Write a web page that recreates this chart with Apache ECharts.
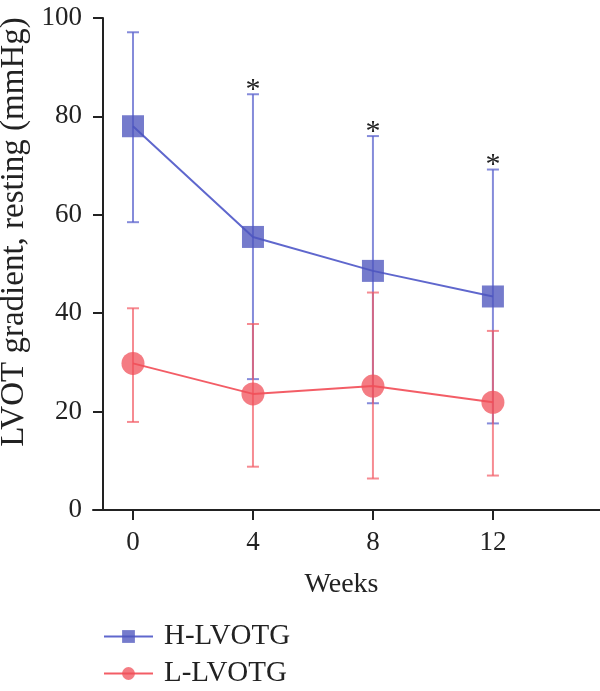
<!DOCTYPE html>
<html>
<head>
<meta charset="utf-8">
<script src="https://cdn.jsdelivr.net/npm/echarts@6/dist/echarts.min.js"></script>
<style>
    html, body { margin: 0; padding: 0; background: #fff; }
    #main { width: 600px; height: 691px; }
</style>
</head>
<body>
<div id="main"></div>
<script>
// weeks on the x axis
var weeks = [0, 4, 8, 12];
// H-LVOTG: mean, upper and lower whisker
var hMean = [78.0, 55.5, 48.6, 43.4];
var hUpper = [97.1, 84.5, 76.0, 69.2];
var hLower = [58.5, 26.6, 21.7, 17.6];
var hStar = [0, 1, 1, 1];
// L-LVOTG
var lMean = [29.8, 23.6, 25.2, 21.9];
var lUpper = [41.0, 37.8, 44.2, 36.4];
var lLower = [17.9, 8.8, 6.4, 7.0];
var lStar = [0, 0, 0, 0];

var serif = '"Liberation Serif", "DejaVu Serif", serif';
var blue = 'rgba(78, 86, 190, 0.78)';
var blueBar = 'rgba(92, 100, 205, 0.75)';
var red = 'rgba(240, 80, 90, 0.75)';
var redBar = 'rgba(242, 90, 100, 0.7)';

function pairs(ys) {
    var out = [];
    for (var i = 0; i < weeks.length; i++) out.push([weeks[i], ys[i]]);
    return out;
}
function bars(lo, hi, star) {
    var out = [];
    for (var i = 0; i < weeks.length; i++) out.push([weeks[i], lo[i], hi[i], star[i]]);
    return out;
}

// 误差线 + 显著性星号
function errorBar(color) {
    return function (params, api) {
        var x = api.value(0);
        var lo = api.coord([x, api.value(1)]);
        var hi = api.coord([x, api.value(2)]);
        var w = 6;
        var style = { stroke: color, lineWidth: 2, fill: null };
        var kids = [
            { type: 'line', shape: { x1: hi[0], y1: hi[1], x2: lo[0], y2: lo[1] }, style: style },
            { type: 'line', shape: { x1: hi[0] - w, y1: hi[1], x2: hi[0] + w, y2: hi[1] }, style: style },
            { type: 'line', shape: { x1: lo[0] - w, y1: lo[1], x2: lo[0] + w, y2: lo[1] }, style: style }
        ];
        if (api.value(3)) {
            kids.push({
                type: 'text',
                style: {
                    text: '*', x: hi[0], y: hi[1] - 4,
                    align: 'center', verticalAlign: 'middle',
                    font: '30px ' + serif, fill: '#222'
                }
            });
        }
        return { type: 'group', children: kids };
    };
}

var chart = echarts.init(document.getElementById('main'));
var option = {
    animation: false,
    grid: { left: 93, right: 0, top: 18, bottom: 181, outerBoundsMode: 'none' },
    legend: {
        orient: 'vertical',
        left: 103,
        top: 622,
        padding: 0,
        itemWidth: 49,
        itemHeight: 16,
        itemGap: 8,
        data: ['H-LVOTG', 'L-LVOTG'],
        textStyle: { fontFamily: serif, fontSize: 29, lineHeight: 29, color: '#222', padding: [0, 0, 0, 6] }
    },
    xAxis: {
        type: 'value',
        min: -4 / 3,
        max: 15.57,
        name: 'Weeks',
        nameLocation: 'middle',
        nameGap: 61,
        nameTextStyle: { fontFamily: serif, fontSize: 28, color: '#222', padding: [0, 10, 0, 0] },
        splitLine: { show: false },
        axisLine: { lineStyle: { color: '#222', width: 2 } },
        axisTick: { show: true, length: 10, lineStyle: { color: '#222', width: 2 }, customValues: weeks },
        axisLabel: { customValues: weeks, fontFamily: serif, fontSize: 27, color: '#222', margin: 19 }
    },
    yAxis: {
        type: 'value',
        min: 0,
        max: 100,
        interval: 20,
        offset: -10,
        name: 'LVOT gradient, resting (mmHg)',
        nameLocation: 'middle',
        nameGap: 72,
        nameTextStyle: { fontFamily: serif, fontSize: 33, color: '#222', padding: [0, 0, 0, 64] },
        splitLine: { show: false },
        axisLine: { show: true, onZero: false, lineStyle: { color: '#222', width: 2 } },
        axisTick: { show: true, length: 10, lineStyle: { color: '#222', width: 2 } },
        axisLabel: { fontFamily: serif, fontSize: 27, color: '#222', margin: 21 }
    },
    series: [
        {
            type: 'custom',
            name: 'hErr',
            renderItem: errorBar(blueBar),
            data: bars(hLower, hUpper, hStar),
            z: 1
        },
        {
            type: 'custom',
            name: 'lErr',
            renderItem: errorBar(redBar),
            data: bars(lLower, lUpper, lStar),
            z: 1
        },
        {
            name: 'H-LVOTG',
            type: 'line',
            symbol: 'rect',
            symbolSize: 22,
            data: pairs(hMean),
            itemStyle: { color: blue },
            lineStyle: { color: 'rgba(78, 86, 200, 0.9)', width: 2 },
            z: 3
        },
        {
            name: 'L-LVOTG',
            type: 'line',
            symbol: 'circle',
            symbolSize: 23,
            data: pairs(lMean),
            itemStyle: { color: red },
            lineStyle: { color: 'rgba(242, 75, 85, 0.9)', width: 2 },
            z: 3
        }
    ]
};
chart.setOption(option);
window.onresize = function () {
    chart.resize();
};
</script>
</body>
</html>
